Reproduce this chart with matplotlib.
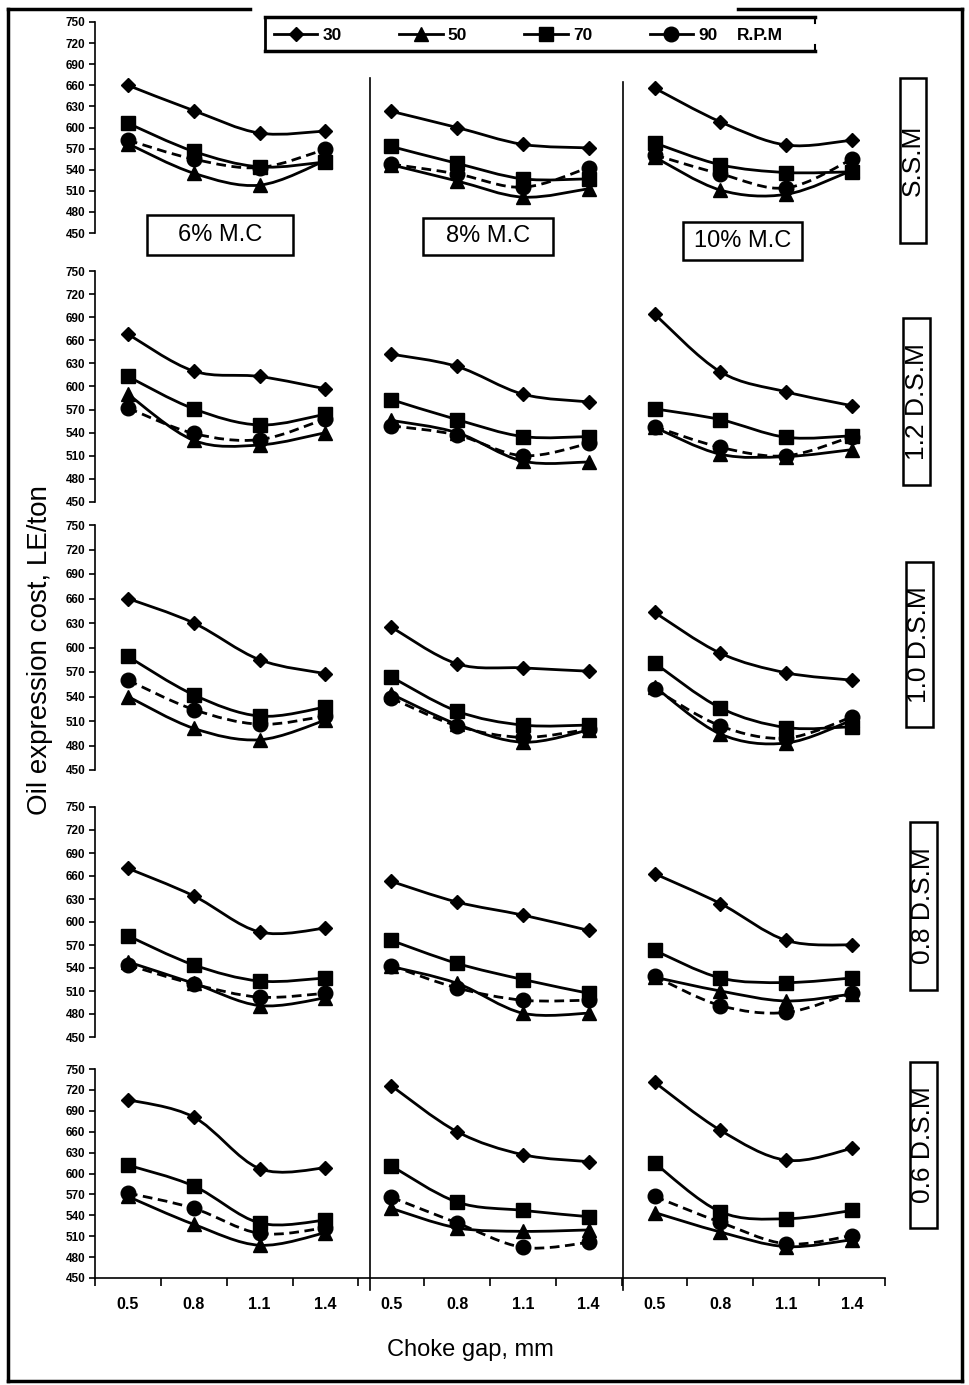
import numpy as np
import matplotlib
matplotlib.use("Agg")
import matplotlib.pyplot as plt
from matplotlib.path import Path
from matplotlib.patches import PathPatch, Rectangle
from matplotlib.lines import Line2D

plt.rcParams['font.family'] = ['Liberation Sans', 'DejaVu Sans']

# choke gap per moisture group, three groups side by side
gaps = ['0.5', '0.8', '1.1', '1.4']
moisture = ['6% M.C', '8% M.C', '10% M.C']
speeds = [30, 50, 70, 90]
screws = ['S.S.M', '1.2 D.S.M', '1.0 D.S.M', '0.8 D.S.M', '0.6 D.S.M']

# oil expression cost (LE/ton), 12 values = 6%, 8%, 10% M.C x 4 gaps
ssm = {
    30: [660, 624, 592, 595, 623, 600, 576, 571, 656, 608, 575, 582],
    50: [577, 535, 518, 553, 547, 524, 501, 513, 558, 511, 505, 539],
    70: [606, 566, 544, 551, 573, 549, 527, 527, 578, 547, 536, 537],
    90: [582, 555, 543, 569, 548, 534, 515, 543, 561, 534, 514, 555],
}
dsm_12 = {
    30: [668, 620, 613, 597, 642, 626, 590, 580, 694, 619, 593, 575],
    50: [590, 530, 524, 540, 556, 540, 503, 502, 547, 512, 509, 518],
    70: [613, 571, 550, 564, 583, 557, 535, 535, 571, 557, 534, 536],
    90: [572, 539, 531, 558, 549, 537, 510, 526, 548, 521, 510, 535],
}
dsm_10 = {
    30: [660, 630, 585, 568, 625, 580, 575, 571, 643, 593, 569, 560],
    50: [540, 501, 487, 511, 543, 506, 484, 499, 552, 494, 483, 511],
    70: [589, 542, 516, 527, 564, 522, 505, 505, 581, 526, 502, 503],
    90: [560, 524, 506, 516, 538, 504, 490, 500, 549, 504, 489, 515],
}
dsm_08 = {
    30: [670, 634, 587, 592, 653, 626, 609, 589, 663, 624, 576, 570],
    50: [548, 520, 491, 501, 542, 520, 481, 481, 528, 510, 497, 506],
    70: [582, 544, 523, 527, 576, 546, 525, 507, 563, 527, 521, 527],
    90: [544, 519, 502, 507, 543, 514, 498, 498, 529, 491, 482, 508],
}
dsm_06 = {
    30: [706, 681, 607, 608, 726, 660, 627, 617, 731, 662, 619, 636],
    50: [567, 527, 497, 515, 550, 522, 517, 519, 544, 516, 495, 505],
    70: [612, 582, 529, 533, 611, 559, 547, 538, 615, 545, 535, 547],
    90: [572, 550, 514, 522, 566, 529, 494, 501, 567, 530, 499, 511],
}
rows = [ssm, dsm_12, dsm_10, dsm_08, dsm_06]

markers = {30: ('D', 7.5), 50: ('^', 10), 70: ('s', 10), 90: ('o', 10.5)}
dashes = {30: '-', 50: '-', 70: '-', 90: (0, (3.5, 2))}

W, H = 969, 1385
fig = plt.figure(figsize=(W / 100, H / 100), dpi=100)


def fx(x):
    return x / W


def fy(y):
    return 1 - y / H


def smooth_path(xs, ys):
    # Catmull-Rom style bezier through the points (Excel "smoothed line")
    n = len(xs)
    verts = [(xs[0], ys[0])]
    codes = [Path.MOVETO]
    for i in range(n - 1):
        a, b = max(i - 1, 0), min(i + 2, n - 1)
        c1 = (xs[i] + (xs[i + 1] - xs[a]) / 6, ys[i] + (ys[i + 1] - ys[a]) / 6)
        c2 = (xs[i + 1] - (xs[b] - xs[i]) / 6, ys[i + 1] - (ys[b] - ys[i]) / 6)
        verts += [c1, c2, (xs[i + 1], ys[i + 1])]
        codes += [Path.CURVE4] * 3
    return Path(verts, codes)


row_px = [(22, 233), (271, 502), (525, 770), (807, 1037), (1069, 1278)]
ax_left, ax_right = 95, 885

for r, (data, (top, bot)) in enumerate(zip(rows, row_px)):
    ax = fig.add_axes([fx(ax_left), fy(bot), (ax_right - ax_left) / W, (bot - top) / H])
    ax.set_xlim(-0.5, 11.5)
    ax.set_ylim(450, 750)
    ax.patch.set_alpha(0)
    for s in ['top', 'right']:
        ax.spines[s].set_visible(False)
    ax.spines['left'].set_linewidth(1.2)
    ax.set_yticks(np.arange(450, 751, 30))
    ax.tick_params(axis='y', direction='out', length=4, width=1.2, pad=3)
    for lab in ax.get_yticklabels():
        lab.set_fontsize(8.5)
        lab.set_fontweight('bold')

    for rpm in speeds:
        mk, ms = markers[rpm]
        for g in range(3):
            xs = np.arange(4) + 4 * g
            ys = np.array(data[rpm][4 * g:4 * g + 4], dtype=float)
            ax.add_patch(PathPatch(smooth_path(xs, ys), fill=False, edgecolor='black',
                                   lw=2.0, linestyle=dashes[rpm], zorder=2))
            ax.plot(xs, ys, linestyle='none', marker=mk, markersize=ms,
                    color='black', zorder=3)

    if r < 4:
        ax.spines['bottom'].set_visible(False)
        ax.set_xticks([])
    else:
        ax.spines['bottom'].set_linewidth(1.2)
        ax.set_xticks(np.arange(-0.5, 12, 1))
        ax.set_xticklabels([])
        ax.tick_params(axis='x', which='major', direction='out', length=6, width=1.2)
        ax.set_xticks(np.arange(12), minor=True)
        ax.set_xticklabels(gaps * 3, minor=True, fontsize=11.5, fontweight='bold')
        ax.tick_params(axis='x', which='minor', length=0, pad=14)

# group dividers
for xd, yt in [(370, 78), (623, 82)]:
    fig.add_artist(Line2D([fx(xd), fx(xd)], [fy(yt), fy(1290)], color='black',
                          lw=1.2, transform=fig.transFigure))

# moisture content boxes
mc_boxes = [(147, 293, 215, 255), (423, 553, 218, 255), (683, 802, 222, 260)]
for label, (x0, x1, y0, y1) in zip(moisture, mc_boxes):
    fig.add_artist(Rectangle((fx(x0), fy(y1)), (x1 - x0) / W, (y1 - y0) / H,
                             facecolor='white', edgecolor='black', lw=1.8,
                             transform=fig.transFigure))
    fig.text(fx((x0 + x1) / 2), fy((y0 + y1) / 2), label, ha='center', va='center',
             fontsize=17)

# screw configuration boxes
screw_boxes = [(900, 926, 78, 243), (903, 930, 318, 485), (906, 933, 562, 727),
               (910, 937, 822, 990), (910, 937, 1062, 1228)]
for label, (x0, x1, y0, y1) in zip(screws, screw_boxes):
    fig.add_artist(Rectangle((fx(x0), fy(y1)), (x1 - x0) / W, (y1 - y0) / H,
                             facecolor='white', edgecolor='black', lw=1.8,
                             transform=fig.transFigure))
    fig.text(fx((x0 + x1) / 2), fy((y0 + y1) / 2), label, ha='center', va='center',
             fontsize=19, rotation=90)

# legend
handles = [Line2D([], [], color='black', lw=2.0, linestyle='-',
                  marker=markers[s][0], markersize=markers[s][1]) for s in speeds]
fig.legend(handles, [str(s) for s in speeds], loc='center left',
           bbox_to_anchor=(fx(274), fy(35)), ncol=4, frameon=False,
           handlelength=2.5, handletextpad=0.3, columnspacing=3.3, borderpad=0,
           borderaxespad=0, prop={'size': 12.5, 'weight': 'bold'})
fig.text(fx(737), fy(36), 'R.P.M', ha='left', va='center', fontsize=12.5, fontweight='bold')

line_kw = dict(color='black', transform=fig.transFigure)
fig.add_artist(Line2D([fx(265), fx(815)], [fy(17), fy(17)], lw=2.5, **line_kw))
fig.add_artist(Line2D([fx(265), fx(815)], [fy(51), fy(51)], lw=2.5, **line_kw))
fig.add_artist(Line2D([fx(265), fx(265)], [fy(17), fy(51)], lw=2.0, **line_kw))
fig.add_artist(Line2D([fx(815), fx(815)], [fy(17), fy(23)], lw=1.5, **line_kw))
fig.add_artist(Line2D([fx(815), fx(815)], [fy(45), fy(51)], lw=1.5, **line_kw))

# outer frame, broken at the top around the legend
fig.add_artist(Line2D([fx(8), fx(250)], [fy(9), fy(9)], lw=2.5, **line_kw))
fig.add_artist(Line2D([fx(738), fx(962)], [fy(9), fy(9)], lw=2.5, **line_kw))
fig.add_artist(Line2D([fx(8), fx(8)], [fy(9), fy(1381)], lw=2.5, **line_kw))
fig.add_artist(Line2D([fx(962), fx(962)], [fy(9), fy(1381)], lw=2.5, **line_kw))
fig.add_artist(Line2D([fx(8), fx(962)], [fy(1381), fy(1381)], lw=2.5, **line_kw))

fig.text(fx(40), fy(650), 'Oil expression cost, LE/ton', rotation=90,
         ha='center', va='center', fontsize=20)
fig.text(fx(470), fy(1350), 'Choke gap, mm', ha='center', va='center', fontsize=17)

fig.savefig('out.png', dpi=100)
